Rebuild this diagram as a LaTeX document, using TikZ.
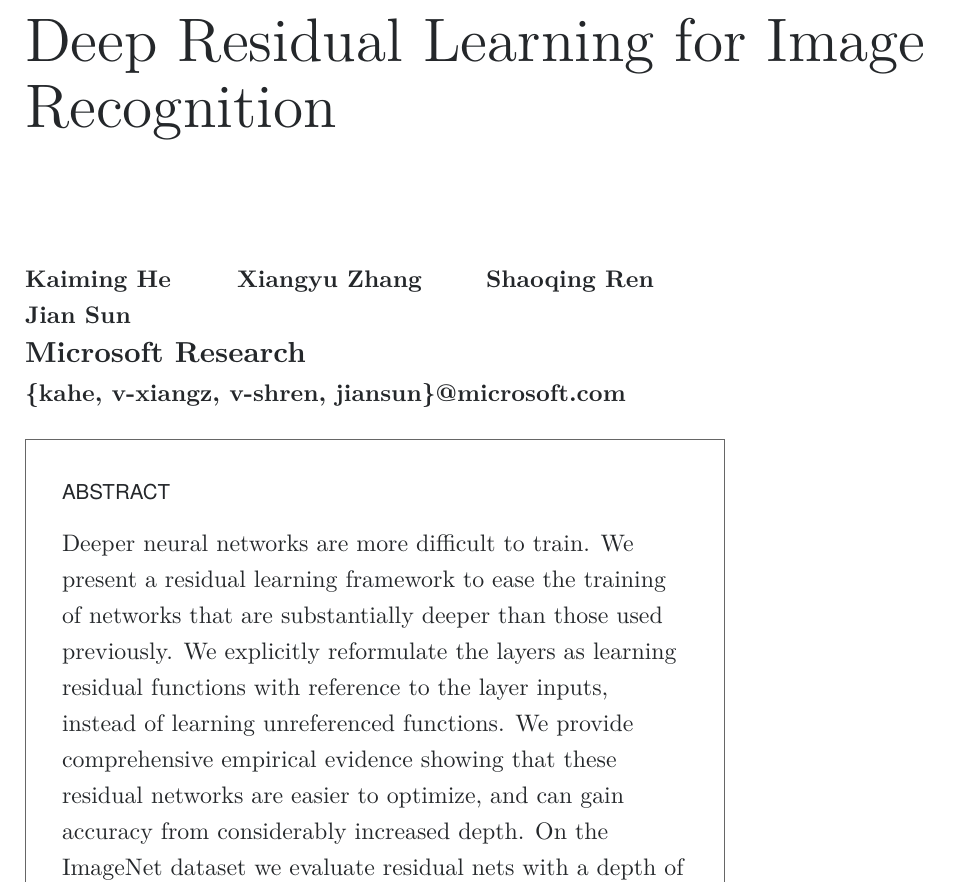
\documentclass[tikz,border=0pt]{standalone}
\usepackage{fontspec}
\newfontfamily\headsans{TeX Gyre Heros}
\newfontfamily\lmten{lmroman10-regular.otf}[BoldFont=lmroman10-bold.otf]
\newfontfamily\lmtwelve{lmroman12-regular.otf}
\usepackage{tikz}
\usetikzlibrary{positioning}

\definecolor{inkdark}{RGB}{36,39,42}
\definecolor{framegray}{RGB}{102,102,102}

\tikzset{
  txt/.style={anchor=base west, inner sep=0pt, outer sep=0pt, text=inkdark},
  author/.style={txt, font=\fontsize{18}{27}\lmten\bfseries},
}

\begin{document}
\begin{tikzpicture}[x=0.75pt, y=-0.75pt]
\useasboundingbox (0,0) rectangle (957,882);

% Title
\node[txt, font=\fontsize{46.1}{49.5}\lmtwelve] (titleA) at (25,61) {Deep Residual Learning for Image};
\node[txt, font=\fontsize{46.1}{49.5}\lmtwelve] (titleB) at (25,127) {Recognition};

% Authors
\node[author] (heK) at (25,287) {Kaiming He};
\node[author] (zhX) at (237,287) {Xiangyu Zhang};
\node[author] (renS) at (486,287) {Shaoqing Ren};
\node[author] (sunJ) at (25,323) {Jian Sun};

% Affiliation and mail
\node[txt, font=\fontsize{21.7}{27}\lmten\bfseries] (affil) at (25,362) {Microsoft Research};
\node[txt, font=\fontsize{18}{27}\lmten\bfseries] (mail) at (25,401) {\{kahe, v-xiangz, v-shren, jiansun\}@microsoft.com};

% Abstract frame (runs off the bottom)
\draw[framegray, line width=0.75pt] (25,890) -- (25,439) -- (724,439) -- (724,890);

\node[txt, font=\fontsize{15.4}{18}\headsans] (abshead) at (62,499) {ABSTRACT};
\node[txt, anchor=north west, align=left, font=\fontsize{17.9}{27}\lmten] (absbody) at (62,535) {%
Deeper neural networks are more difficult to train. We\\
present a residual learning framework to ease the training\\
of networks that are substantially deeper than those used\\
previously. We explicitly reformulate the layers as learning\\
residual functions with reference to the layer inputs,\\
instead of learning unreferenced functions. We provide\\
comprehensive empirical evidence showing that these\\
residual networks are easier to optimize, and can gain\\
accuracy from considerably increased depth. On the\\
ImageNet dataset we evaluate residual nets with a depth of};

\end{tikzpicture}
\end{document}
